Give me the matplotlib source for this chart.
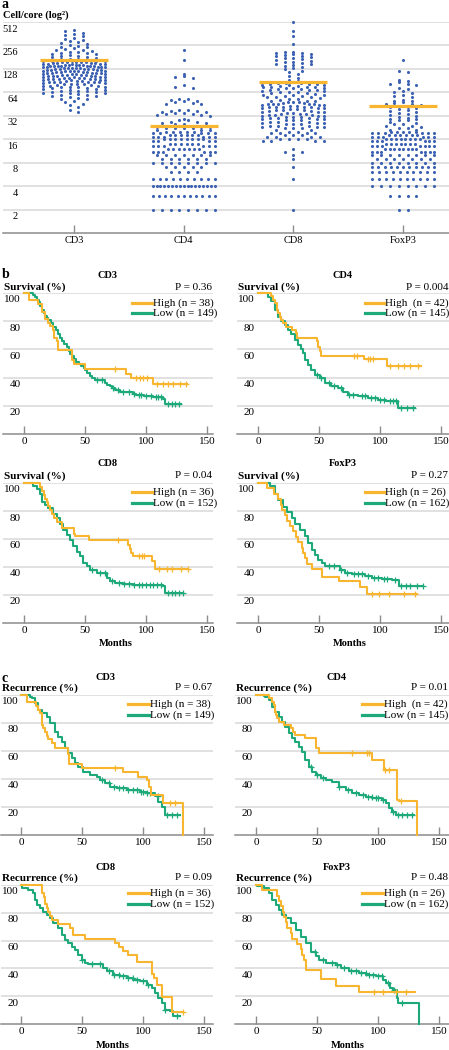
import numpy as np
import matplotlib
matplotlib.use('Agg')
import matplotlib.pyplot as plt
from matplotlib.lines import Line2D

plt.rcParams['font.family'] = ['Liberation Serif', 'DejaVu Serif']

W, H = 449, 1050
BLUE = '#3D62B3'
ORANGE = '#F8B630'
GREEN = '#1EA97B'
GRID = '#D9D9D9'
AXIS = '#8C8C8C'

# ---------------- panel a: cells per core ----------------
markers = ['CD3', 'CD4', 'CD8', 'FoxP3']
cutoffs = [165, 23.6, 87, 42.5]

cd3_cells = [402, 388, 370, 362, 351, 338, 322, 310, 301, 292, 284, 275, 268, 259, 252, 246, 241,
             236, 231, 226, 221, 217, 213, 209, 206, 203, 200, 197, 193, 190, 186, 183, 180, 177,
             174, 171, 169, 167,
             164, 163, 162, 161, 160, 159, 158, 157, 156, 155, 154, 153, 152, 151, 150, 149, 148,
             147, 146, 145, 144, 143, 142, 142, 141, 141, 140, 140,
             139, 138, 137, 136, 135, 134, 133, 132, 131, 130, 129, 128, 127, 126, 125, 124, 123,
             122, 121, 120, 138, 135, 131, 128, 125, 122, 121,
             119, 118, 117, 116, 115, 114, 113, 112, 111, 110, 109, 108, 107, 106, 105, 104, 103,
             102, 101, 100, 117, 114, 111, 108, 105, 103, 101,
             99, 98, 97, 96, 95, 94, 93, 92, 91, 90, 89, 88, 87, 86, 85, 98, 96, 94, 92, 90, 88, 87, 86,
             84, 83, 82, 81, 80, 79, 78, 77, 76, 75, 74, 73, 72, 71, 70, 82, 78, 74,
             69, 68, 67, 66, 65, 64, 63, 62, 61, 60, 66, 63,
             59, 58, 57, 55, 54, 53, 52, 50, 48, 46, 44, 41, 38, 36]

cd4_cells = ([2] * 8 + [3] * 11 + [4] * 17 + [5] * 10 + [6] * 4 + [7] * 5 + [8] * 8 + [9] * 6 +
             [10] * 7 + [11] * 6 + [12] * 7 + [13] * 6 + [14] * 6 + [15] * 4 + [16] * 8 + [17] * 6 +
             [18] * 6 + [19] * 5 + [20] * 5 + [21] * 3 + [22] * 4 + [23] * 3 +
             [24, 24, 25, 25, 26, 26, 27, 27, 28, 28, 29,
              32, 33, 33, 34, 34, 35, 35, 36, 36, 37, 37, 38, 38,
              45, 46, 47, 48, 49, 50, 51, 52, 53,
              73, 76, 79, 98, 100, 103, 109, 165, 222])

cd8_cells = ([505, 388, 338, 270, 214, 210, 207, 204, 201, 198, 195, 190, 185, 181, 178, 176,
              172, 168, 163, 159, 155, 152, 150, 147, 143, 139, 134, 130, 126,
              122, 116, 110, 104, 98, 93, 89] +
             list(range(50, 87)) + [84, 80, 76, 72, 68, 64, 60, 56] +
             list(range(30, 50)) * 2 + [48, 46, 44, 42, 40, 38, 36, 34, 33, 32, 31, 30] +
             list(range(20, 30)) * 2 + [29, 28, 27, 26, 25, 24, 23, 22] +
             [19, 19, 19, 18, 18, 18, 17, 17, 17, 16, 16, 16, 16, 15, 15, 15, 15, 19, 17] +
             [12, 11, 11, 10, 9, 7, 5, 2])

foxp3_cells = ([165, 120, 118, 91, 89, 86, 83, 81, 79, 72, 70, 67, 64, 62, 59, 57, 55,
                51, 50, 49, 48, 47, 46, 45, 44, 43] +
               [2] * 2 + [3] * 4 + [4] * 8 + [5] * 10 + [6] * 10 + [7] * 11 + [8] * 8 + [9] * 7 +
               [10] * 8 + [11] * 7 + [12] * 8 + [13] * 7 + [14] * 7 + [15] * 6 + [16] * 8 +
               [17] * 6 + [18] * 6 + [19] * 6 + [20] * 5 + [21] * 2 + [22] * 2 +
               [23, 24, 25, 26, 24, 25, 27, 28, 29, 30, 28, 29, 31, 32, 33, 34, 35, 36,
                37, 38, 39, 40, 41, 42])

# ---------------- panel b: overall survival (months, %) ----------------
os_cd3_high_t = [0, 4.4, 11.7, 14.5, 17, 19.7, 21, 23.5, 25, 27, 28, 39, 41, 50, 84, 88, 105.5, 134]
os_cd3_high_s = [100, 94.7, 92.1, 86.8, 81.6, 78.9, 76.3, 73.7, 68.4, 65.8, 59.5, 52.6, 49.5, 46, 42.7, 39.6, 35.5, 35.5]
os_cd3_high_c = [75, 92, 95, 97.8, 100.5, 109, 114, 118, 122, 128, 133]
os_cd3_low_t = [0, 7, 9, 10.4, 12, 13.5, 14.5, 16, 17.5, 18.6, 20, 22, 24, 26, 28, 29.5, 31, 33, 35, 36.5,
                38, 39, 41, 43, 45, 47, 49, 50, 52, 54, 56, 58, 66, 68, 70.5, 72, 74.6, 78.7, 84, 89,
                92, 98, 106, 114, 115.6, 129]
os_cd3_low_s = [100, 98.7, 97.3, 95.3, 93.3, 90.6, 88, 86, 84, 82, 80.5, 79, 76, 74, 71, 68, 66, 63.5, 62, 59,
                57, 55.5, 53.5, 51, 49.5, 48, 46.5, 45.5, 43.5, 41, 39.5, 38, 36.5, 35, 34, 32.5, 31, 30, 29.6, 28.5,
                27.7, 27, 26, 25, 21.5, 21.5]
os_cd3_low_c = [60, 64, 73, 77, 81, 86, 90, 94, 96, 100, 104, 108, 110, 112, 118, 121, 124, 127]

os_cd4_high_t = [0, 11, 12.5, 14, 15.5, 16.5, 17.8, 19, 20.5, 23, 28, 31, 32, 48, 49.5, 50.5, 52, 87, 106, 134]
os_cd4_high_s = [100, 97.6, 95.2, 92.8, 88, 85.7, 83.3, 80.9, 78.5, 76.1, 73.7, 71.3, 68, 66, 61.5, 59, 55.6, 53.2, 48.5, 48.5]
os_cd4_high_c = [79, 81.5, 90, 92, 94, 108, 115, 120, 125, 131]
os_cd4_low_t = [0, 8.2, 10.9, 13.7, 16.4, 19.1, 21.9, 24.6, 27.3, 30, 32.8, 35.5, 36.9, 38.3, 41, 43.7, 46.4,
                50.5, 54.6, 60, 65.6, 69.7, 73.8, 82, 90.2, 98.4, 105, 114.8, 128.4]
os_cd4_low_s = [100, 97.5, 94, 88, 83, 80, 77.5, 74, 71, 67, 63, 60, 57.4, 52.7, 49, 45.6, 42,
                39.7, 36, 34, 32.4, 30, 28, 26.7, 25.5, 24.3, 23.2, 18.4, 18.4]
os_cd4_low_c = [48, 52, 58, 62, 68, 75, 78, 85, 88, 93, 96, 100, 103, 108, 111, 113, 117, 122, 127]

os_cd8_high_t = [0, 13.5, 15, 16, 17, 18.5, 20, 21.5, 23, 25, 27, 31, 41, 42, 53.6, 85.5, 86.5, 88, 89, 104.6, 107, 134.7]
os_cd8_high_s = [100, 97.2, 94.4, 91.7, 88.9, 86.1, 83.3, 80.6, 77.8, 75, 72.2, 67.7, 63.9, 61.8, 59, 55.6, 52.8, 50, 48, 44.4, 38.5, 38.5]
os_cd8_high_c = [77, 94, 96.5, 98.4, 111, 117, 121, 129, 134.7]
os_cd8_low_t = [0, 7.7, 10.4, 13.1, 14.5, 17.2, 19.9, 24, 26.8, 29.5, 32.2, 35, 37.7, 40.4, 43.2, 45.9, 48.6,
                51.4, 54.1, 59.6, 65, 67.8, 70.5, 74.6, 81.4, 89.6, 114.2, 115.6, 130]
os_cd8_low_s = [100, 98, 96, 92, 86.6, 84, 82, 78, 75, 71, 66.5, 63, 59.4, 54.7, 51, 47.6, 43,
                40.6, 38, 35.8, 35.4, 32.3, 30, 28.8, 27.6, 27, 26.4, 21.7, 21.7]
os_cd8_low_c = [56, 62, 66, 72, 78, 82, 86, 90, 94, 97, 100, 103, 106, 109, 112, 118, 121, 124, 127, 130]

os_foxp3_high_t = [0, 7.7, 13.2, 16.5, 18.7, 19.8, 22, 23.4, 26.1, 28.8, 30.8, 33, 35.7, 36.5, 38.5, 39.8,
                   44.5, 52.2, 66, 83.8, 89.3, 130.5]
os_foxp3_high_s = [100, 96.2, 92.3, 88.5, 84.6, 80.8, 76.9, 73.1, 69.2, 65.4, 61.5, 57.7, 53.8, 50, 46.2, 42.3,
                   38.5, 33, 30, 25.5, 21, 21]
os_foxp3_high_c = [93.4, 99.5, 107, 119.5, 129]
os_foxp3_low_t = [0, 9.6, 13.7, 16.5, 20.6, 23.4, 27.5, 30.2, 34.3, 38.5, 41.2, 44, 46.7, 49.5, 52.2, 55,
                  64.6, 67.3, 71.4, 76.9, 88, 93.4, 101.6, 110, 115.4, 135]
os_foxp3_low_s = [100, 98, 92.5, 88, 83, 79.5, 75, 71, 66.5, 61.8, 57, 52.4, 48.8, 45.3, 43, 41,
                  40.6, 38.2, 35.8, 34.7, 33.5, 32.3, 31.6, 30.7, 26.4, 26.4]
os_foxp3_low_c = [58, 62, 68, 73, 79, 82, 85, 90, 95, 98, 103, 106, 112, 117, 121, 125, 130, 135]

# ---------------- panel c: recurrence (months, %) ----------------
rec_cd3_high_t = [0, 4.6, 12.3, 14.2, 15.6, 16.9, 17.5, 18.3, 19.5, 21, 22.4, 25.1, 27.9, 38.8, 39.5, 49.7,
                  83.9, 96.2, 103, 105, 106.3, 116, 132.5]
rec_cd3_high_s = [100, 94.7, 92.1, 89.5, 86.8, 81.6, 78.9, 76.3, 73.7, 71, 68.4, 65.8, 62, 57.9, 50.5, 47.6,
                  44.8, 41.7, 39.3, 34, 28.6, 22.6, 0]
rec_cd3_high_c = [77, 122, 126]
rec_cd3_low_t = [0, 7.4, 8.7, 11.5, 14.2, 16.9, 21, 23.8, 27.9, 30.6, 33.3, 36.1, 38.8, 41.5, 44.3, 47, 51.1,
                 56.6, 62, 64.8, 68.9, 73, 78.4, 86.6, 97.5, 103, 109.8, 112.6, 115.3, 118, 130.3]
rec_cd3_low_s = [100, 98.8, 97.6, 94, 89, 87, 84.5, 79.8, 73.8, 70.2, 66.7, 62, 58.3, 54.8, 51.2, 48.8, 45.2,
                 42.9, 41.7, 39.3, 36.9, 34.5, 33.3, 32.1, 31, 29.8, 28, 23.8, 20.2, 14.3, 14.3]
rec_cd3_low_c = [66, 72, 76, 80, 84, 88, 92, 95, 98, 100, 103, 106, 112, 120, 124, 128]

rec_cd4_high_t = [0, 11, 13.2, 14.5, 15.3, 15.9, 16.5, 17.3, 18.6, 22.7, 29, 30.5, 32.3, 40.5, 48.8, 49.5, 51.5,
                  95.3, 104.9, 115.9, 117.3, 132.3]
rec_cd4_high_s = [100, 97.6, 95.2, 92.9, 90.5, 88.1, 85.7, 83.3, 81, 78.6, 76.2, 73.8, 71.4, 69, 64.3, 61.9, 58.3,
                  53.6, 46.4, 25, 24, 0]
rec_cd4_high_c = [78.9, 91.2, 93, 106, 109, 118.6]
rec_cd4_low_t = [0, 6.3, 7.7, 10.4, 13.2, 15.9, 18.6, 21.4, 24.1, 26.8, 29.6, 32.3, 35.1, 37.8, 40.5, 43.3, 46,
                 48.8, 52.9, 57, 62.5, 67.9, 73.4, 78.9, 84.4, 89.9, 95.3, 103.6, 106.3, 109, 111.8, 114.5, 129.6]
rec_cd4_low_s = [100, 99.5, 98.8, 96.4, 91.7, 88, 84.5, 81, 77.4, 72.6, 69, 66.7, 63, 59.5, 53.6, 48.8, 45.2,
                 42.9, 40.5, 39.3, 38, 34.5, 32, 29.8, 28.6, 27, 26.2, 25, 22.6, 19, 16.7, 14.3, 14.3]
rec_cd4_low_c = [45, 50, 55, 68, 75, 82, 88, 92, 95, 98, 100, 104, 112, 116, 120, 124, 128]

rec_cd8_high_t = [0, 16.9, 17.5, 18.5, 19.7, 21, 22.4, 23.5, 25.1, 30.6, 40.2, 42.3, 52.5, 77, 80, 83.9, 88,
                  94.8, 107.1, 109, 111.2, 115.3, 123.5, 133]
rec_cd8_high_s = [100, 97.2, 94.4, 91.7, 86.1, 83.3, 80.6, 77.8, 75, 72.2, 69.4, 63.9, 61.1, 58.3, 55.6, 52.8, 50,
                  44.4, 36.1, 33.3, 27.8, 19.4, 8.3, 8.3]
rec_cd8_high_c = [133]
rec_cd8_low_t = [0, 0.5, 6, 10.1, 11.5, 12.8, 15.6, 18.3, 21, 23.8, 26.5, 30.6, 33.3, 36.1, 38.8, 41.5, 44.3,
                 47, 49.7, 52.5, 55.2, 67.5, 70.2, 75.7, 81.1, 86.6, 92.1, 97.5, 103, 107.1, 109.8, 112.6,
                 115.3, 118, 122.1, 124.9, 130.3]
rec_cd8_low_s = [100, 97.6, 96.4, 94, 89, 85.6, 83.3, 80.9, 78.5, 76, 72.5, 69, 64, 60.5, 58, 55.7, 53.3,
                 49.8, 46.2, 43.8, 43.3, 40.2, 37.8, 35.4, 34.2, 33, 31.8, 30.6, 28.2, 25.8, 22.2, 18.7,
                 15, 10.3, 9, 5.5, 5.5]
rec_cd8_low_c = [50, 58, 65, 72, 76, 80, 84, 88, 92, 95, 100, 104, 118, 128]

rec_foxp3_high_t = [0, 5, 17.4, 18.7, 20.9, 22, 22.9, 24.5, 25.6, 28.4, 29.5, 33.9, 36.6, 38, 39.4, 40.8,
                    53.2, 65.6, 84.8, 130.3]
rec_foxp3_high_s = [100, 96.2, 92.3, 88.5, 84.6, 80.8, 76.9, 73.1, 69.2, 65.4, 61.5, 57.7, 53.8, 50, 46.2, 39,
                    32.3, 27.5, 22.7, 22.7]
rec_foxp3_high_c = [97, 104, 115, 123]
rec_foxp3_low_t = [0, 0.8, 6.3, 10.5, 13.2, 16, 18.7, 21.5, 24.2, 28.4, 32.5, 36.6, 40.8, 44.9, 49, 51.8,
                   57.3, 65.6, 69.7, 76.6, 84.8, 90.4, 98.6, 104.1, 106.9, 109.6, 112.4, 115.2, 116.5, 133.9]
rec_foxp3_low_s = [100, 99, 97.6, 94, 89.2, 85.6, 82, 78.5, 76, 72.5, 67.7, 62.9, 58, 52, 48.6, 46.2,
                   43.8, 42.6, 40.2, 38.3, 36.6, 35.4, 34.2, 31.8, 29.4, 25.8, 24.6, 18.7, 15, 0]
rec_foxp3_low_c = [48, 55, 62, 66, 72, 78, 82, 86, 90, 93, 96, 100, 103, 108, 113, 120]

p_values_os = ['P = 0.36', 'P = 0.004', 'P = 0.04', 'P = 0.27']
p_values_rec = ['P = 0.67', 'P = 0.01', 'P = 0.09', 'P = 0.48']
high_labels = ['High (n = 38)', 'High  (n = 42)', 'High (n = 36)', 'High (n = 26)']
low_labels = ['Low (n = 149)', 'Low (n = 145)', 'Low (n = 152)', 'Low (n = 162)']


def fx(x):
    return x / W


def fy(y):
    return 1 - y / H


def add_px(left, top, right, bottom):
    return fig.add_axes([fx(left), fy(bottom), (right - left) / W, (bottom - top) / H])


def swarm(vals, px_per_cat, spread=62.0, gap=8.8, tol=0.13):
    v = np.sort(np.asarray(vals, float))
    lv = np.log2(v)
    off = np.zeros(len(v))
    i = 0
    while i < len(v):
        j = i
        while j < len(v) and lv[j] - lv[i] < tol:
            j += 1
        n = j - i
        step = gap if n < 2 else min(gap, spread / (n - 1))
        pos = (np.arange(n) - (n - 1) / 2) * step
        pos = pos[np.argsort(np.abs(pos), kind='stable')]
        off[i:j][::-1] = pos
        i = j
    return v, off / px_per_cat


fig = plt.figure(figsize=(W / 100, H / 100), dpi=100)

# ---------------- panel a ----------------
a_left, a_right, a_top, a_bot = 3, 449, 22, 233
x_cat0, px_cat = 74, 109.7
ax = add_px(a_left, a_top, a_right, a_bot)
ax.set_yscale('log', base=2)
ax.set_ylim(1, 512)
ax.set_xlim((a_left - x_cat0) / px_cat, (a_right - x_cat0) / px_cat)
for k in range(1, 10):
    ax.axhline(2 ** k, color=GRID, lw=1.1, zorder=0)
for i, cells in enumerate([cd3_cells, cd4_cells, cd8_cells, foxp3_cells]):
    yv, xo = swarm(cells, px_cat)
    ax.scatter(i + xo, yv, s=5, color=BLUE, linewidths=0, zorder=3, clip_on=False)
    ax.plot([i - 0.31, i + 0.31], [cutoffs[i], cutoffs[i]], color=ORANGE, lw=2.3, zorder=4,
            solid_capstyle='butt')
for s in ['top', 'right', 'left']:
    ax.spines[s].set_visible(False)
ax.spines['bottom'].set_color(AXIS)
ax.spines['bottom'].set_linewidth(1.1)
ax.set_yticks([])
ax.minorticks_off()
ax.set_yticks([], minor=True)
ax.set_xticks(range(4))
ax.set_xticklabels(markers, fontsize=7.5)
ax.tick_params(axis='x', direction='in', length=6, color=AXIS, width=1, pad=2)
for k in range(1, 10):
    ypx = a_top + (9 - k) * (a_bot - a_top) / 9 + 7
    fig.text(fx(18), fy(ypx), str(2 ** k), ha='right', va='center', fontsize=7.5)
fig.text(fx(3), fy(15), 'Cell/core (log²)', ha='left', va='center', fontsize=7.5, fontweight='bold')
fig.text(fx(2), fy(5), 'a', ha='left', va='center', fontsize=10, fontweight='bold')

# ---------------- KM panels ----------------
os_data = [
    (os_cd3_high_t, os_cd3_high_s, os_cd3_high_c, os_cd3_low_t, os_cd3_low_s, os_cd3_low_c),
    (os_cd4_high_t, os_cd4_high_s, os_cd4_high_c, os_cd4_low_t, os_cd4_low_s, os_cd4_low_c),
    (os_cd8_high_t, os_cd8_high_s, os_cd8_high_c, os_cd8_low_t, os_cd8_low_s, os_cd8_low_c),
    (os_foxp3_high_t, os_foxp3_high_s, os_foxp3_high_c, os_foxp3_low_t, os_foxp3_low_s, os_foxp3_low_c),
]
rec_data = [
    (rec_cd3_high_t, rec_cd3_high_s, rec_cd3_high_c, rec_cd3_low_t, rec_cd3_low_s, rec_cd3_low_c),
    (rec_cd4_high_t, rec_cd4_high_s, rec_cd4_high_c, rec_cd4_low_t, rec_cd4_low_s, rec_cd4_low_c),
    (rec_cd8_high_t, rec_cd8_high_s, rec_cd8_high_c, rec_cd8_low_t, rec_cd8_low_s, rec_cd8_low_c),
    (rec_foxp3_high_t, rec_foxp3_high_s, rec_foxp3_high_c, rec_foxp3_low_t, rec_foxp3_low_s, rec_foxp3_low_c),
]


def km_panel(box, curves, ylab, pval, hl, ll, title, title_y, lab_y, leg, months_y=None):
    left, right, x0, top, bot = box
    scale = 1.22
    ax = add_px(left, top, right, bot)
    ax.set_xlim((left - x0) / scale, (right - x0) / scale)
    ax.set_ylim(0, 100)
    for v in [20, 40, 60, 80, 100]:
        ax.axhline(v, color=GRID, lw=1.1, zorder=0)
    for s in ['top', 'right', 'left']:
        ax.spines[s].set_visible(False)
    ax.spines['bottom'].set_color(AXIS)
    ax.spines['bottom'].set_linewidth(1.1)
    ax.set_yticks([])
    ax.set_xticks([0, 50, 100, 150])
    ax.tick_params(axis='x', direction='in', length=6, color=AXIS, width=1, pad=2, labelsize=8)
    ht, hs, hc, lt, ls, lc = curves
    for t, sv, c, col in [(lt, ls, lc, GREEN), (ht, hs, hc, ORANGE)]:
        t = np.asarray(t, float)
        sv = np.asarray(sv, float)
        ax.step(t, sv, where='post', color=col, lw=1.5, clip_on=False, zorder=3)
        c = np.asarray(c, float)
        cy = sv[np.searchsorted(t, c, side='right') - 1]
        ax.plot(c, cy, ls='none', marker='+', ms=4.5, mew=0.9, color=col, clip_on=False, zorder=3)
    for v in [20, 40, 60, 80, 100]:
        ypx = top + (100 - v) / 100 * (bot - top) + 7
        fig.text(fx(left + 18), fy(ypx), str(v), ha='right', va='center', fontsize=8)
    fig.text(fx(left + 1), fy(lab_y), ylab, ha='left', va='center', fontsize=8, fontweight='bold')
    fig.text(fx(right - 1), fy(lab_y), pval, ha='right', va='center', fontsize=8)
    fig.text(fx(title[1]), fy(title_y), title[0], ha='center', va='center', fontsize=7.5, fontweight='bold')
    lx0, lx1, ly0, ly1 = leg
    for yy, col, txt in [(ly0, ORANGE, hl), (ly1, GREEN, ll)]:
        fig.add_artist(Line2D([fx(lx0), fx(lx1)], [fy(yy), fy(yy)], color=col, lw=2.3))
        fig.text(fx(lx1 + 1), fy(yy), txt, ha='left', va='center', fontsize=8)
    if months_y is not None:
        fig.text(fx(x0 + 75 * scale), fy(months_y), 'Months', ha='center', va='center',
                 fontsize=7.5, fontweight='bold')


# rows: (top, bottom, title_y, label_y, legend_y0, legend_y1, months_y)
rows_b = [(293, 434, 275, 287, 303, 313, None), (483, 623, 463, 476, 492, 503, 644)]
rows_c = [(695, 835, 678, 688, 704, 715, None), (885, 1024, 867, 878, 893, 904, 1046)]
cols_b = [(3, 213, 24, 108, 132, 152), (237, 449, 258, 343, 365, 384)]
cols_c = [(1, 213, 21, 106, 128, 149), (235, 449, 256, 337, 362, 383)]

for r, (top, bot, ty, lyb, l0, l1, my) in enumerate(rows_b):
    for c, (left, right, x0, tx, lg0, lg1) in enumerate(cols_b):
        k = r * 2 + c
        km_panel((left, right, x0, top, bot), os_data[k], 'Survival (%)', p_values_os[k],
                 high_labels[k], low_labels[k], (markers[k], tx), ty, lyb, (lg0, lg1, l0, l1), my)
for r, (top, bot, ty, lyb, l0, l1, my) in enumerate(rows_c):
    for c, (left, right, x0, tx, lg0, lg1) in enumerate(cols_c):
        k = r * 2 + c
        km_panel((left, right, x0, top, bot), rec_data[k], 'Recurrence (%)', p_values_rec[k],
                 high_labels[k], low_labels[k], (markers[k], tx), ty, lyb, (lg0, lg1, l0, l1), my)

fig.text(fx(2), fy(275), 'b', ha='left', va='center', fontsize=10, fontweight='bold')
fig.text(fx(2), fy(678), 'c', ha='left', va='center', fontsize=10, fontweight='bold')

fig.savefig('out.png', dpi=100)
